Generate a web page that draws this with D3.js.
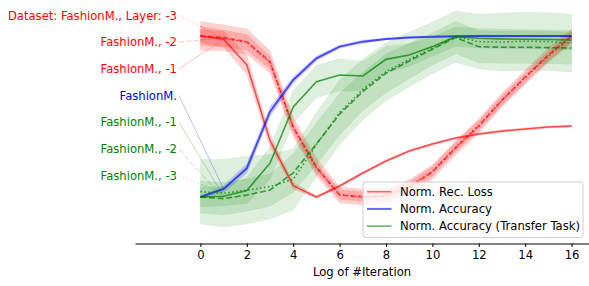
<!DOCTYPE html>
<html>
<head>
<meta charset="utf-8">
<script src="https://cdn.jsdelivr.net/npm/d3@7"></script>
<style>
  html, body { margin: 0; padding: 0; background: #fff; }
  svg { display: block; font-family: "DejaVu Sans", sans-serif; }
</style>
</head>
<body>
<div id="chart"></div>
<script>
// ---------------- data ----------------
const iterations = [0,1,2,3,4,5,6,7,8,9,10,11,12,13,14,15,16];
const xTicks = [0,2,4,6,8,10,12,14,16];

// Norm. Rec. Loss (red), layers -1 / -2 / -3
const recLossL1 = [1.0, 0.98, 0.82, 0.35, 0.07, 0.0, 0.068, 0.149, 0.224, 0.286, 0.329, 0.366, 0.391, 0.41, 0.422, 0.435, 0.441];
const recLossL1Err = [0.04, 0.05, 0.06, 0.04, 0.02, 0.01, 0.01, 0.008, 0.008, 0.008, 0.008, 0.008, 0.008, 0.008, 0.008, 0.008, 0.008];
const recLossL2 = [1.0, 0.99, 0.965, 0.84, 0.435, 0.186, 0.012, 0.0, 0.006, 0.062, 0.155, 0.304, 0.441, 0.602, 0.745, 0.882, 1.0];
const recLossL2Err = [0.09, 0.08, 0.08, 0.07, 0.06, 0.055, 0.05, 0.05, 0.05, 0.045, 0.045, 0.045, 0.045, 0.045, 0.045, 0.045, 0.045];
const recLossL3 = [1.0, 0.985, 0.96, 0.835, 0.43, 0.18, 0.015, 0.003, 0.01, 0.065, 0.16, 0.31, 0.445, 0.6, 0.74, 0.875, 0.995];
const recLossL3Err = [0.06, 0.05, 0.05, 0.04, 0.035, 0.03, 0.03, 0.03, 0.03, 0.03, 0.03, 0.03, 0.03, 0.03, 0.03, 0.03, 0.03];

// Norm. Accuracy (blue)
const accuracy = [0, 0.05, 0.178, 0.53, 0.727, 0.861, 0.934, 0.965, 0.981, 0.99, 0.995, 0.998, 1.0, 1.0, 1.0, 1.0, 1.0];
const accuracyErr = [0.006, 0.02, 0.03, 0.03, 0.02, 0.015, 0.01, 0.01, 0.006, 0.005, 0.004, 0.004, 0.004, 0.004, 0.004, 0.004, 0.004];

// Norm. Accuracy (Transfer Task) (green), layers -1 / -2 / -3
const transferL1 = [0, 0.005, 0.04, 0.21, 0.56, 0.716, 0.758, 0.752, 0.855, 0.882, 0.934, 0.996, 0.986, 0.982, 0.98, 0.978, 0.975];
const transferL1Err = [0.06, 0.06, 0.08, 0.1, 0.1, 0.1, 0.1, 0.09, 0.08, 0.07, 0.06, 0.06, 0.06, 0.06, 0.06, 0.06, 0.06];
const transferL2 = [0, -0.01, 0.012, 0.043, 0.15, 0.33, 0.515, 0.655, 0.768, 0.845, 0.918, 0.99, 0.934, 0.93, 0.93, 0.928, 0.925];
const transferL2Err = [0.1, 0.1, 0.1, 0.1, 0.12, 0.13, 0.13, 0.12, 0.12, 0.11, 0.1, 0.1, 0.1, 0.1, 0.1, 0.1, 0.1];
const transferL3 = [0.033, 0.023, 0.043, 0.064, 0.11, 0.325, 0.525, 0.668, 0.778, 0.855, 0.925, 0.996, 0.965, 0.962, 0.968, 0.965, 0.955];
const transferL3Err = [0.2, 0.21, 0.21, 0.2, 0.19, 0.2, 0.2, 0.19, 0.18, 0.17, 0.16, 0.16, 0.17, 0.18, 0.18, 0.18, 0.18];

const labelTexts = ["Dataset: FashionM., Layer: -3", "FashionM., -2", "FashionM., -1", "FashionM.",
                    "FashionM., -1", "FashionM., -2", "FashionM., -3"];
const legendLabels = ["Norm. Rec. Loss", "Norm. Accuracy", "Norm. Accuracy (Transfer Task)"];
const xLabel = "Log of #Iteration";

// ---------------- series config ----------------
const series = [
  {vals: recLossL3, err: recLossL3Err, color: "red",   dash: "1.5,2.5", label: 0},
  {vals: recLossL2, err: recLossL2Err, color: "red",   dash: "5,2.5",   label: 1},
  {vals: recLossL1, err: recLossL1Err, color: "red",   dash: null,      label: 2},
  {vals: accuracy,  err: accuracyErr,  color: "blue",  dash: null,      label: 3},
  {vals: transferL1, err: transferL1Err, color: "green", dash: null,    label: 4},
  {vals: transferL2, err: transferL2Err, color: "green", dash: "6,2.6", label: 5},
  {vals: transferL3, err: transferL3Err, color: "green", dash: "1.5,2.5", label: 6}
];

// ---------------- drawing ----------------
const W = 589, H = 286;
const FS = "11.6px";
const svg = d3.select("#chart").append("svg").attr("width", W).attr("height", H);

const x = d3.scaleLinear().domain([-2.82, 16.75]).range([135, 589]);
const y = d3.scaleLinear().domain([0, 1]).range([197, 36]);
const axisY = 243.5;

const area = d3.area()
  .x((d, i) => x(iterations[i]))
  .y0(d => y(d[0]))
  .y1(d => y(d[1]));
const line = d3.line()
  .x((d, i) => x(iterations[i]))
  .y(d => y(d));

// bands (below all lines)
series.forEach(s => {
  const band = s.vals.map((v, i) => [v - s.err[i], v + s.err[i]]);
  svg.append("path")
    .attr("d", area(band))
    .attr("fill", s.color)
    .attr("fill-opacity", s.color === "green" ? 0.13 : 0.18)
    .attr("stroke", s.color)
    .attr("stroke-opacity", 0.05);
});

// lines
series.forEach(s => {
  svg.append("path")
    .attr("d", line(s.vals))
    .attr("fill", "none")
    .attr("stroke", s.color)
    .attr("stroke-opacity", s.color === "green" ? 0.72 : 0.65)
    .attr("stroke-width", s.color === "blue" ? 2 : 1.6)
    .attr("stroke-dasharray", s.dash);
});

// labels + connectors
const labelX = 177, labelY0 = 15.5, labelStep = 26.7;
series.forEach(s => {
  const ly = labelY0 + s.label * labelStep;
  svg.append("line")
    .attr("x1", labelX + 2).attr("y1", ly)
    .attr("x2", x(iterations[1])).attr("y2", y(s.vals[1]))
    .attr("stroke", s.color)
    .attr("stroke-opacity", 0.25)
    .attr("stroke-width", 1)
    .attr("stroke-dasharray", s.dash);
  svg.append("text")
    .attr("x", labelX).attr("y", ly)
    .attr("dy", "0.35em")
    .attr("text-anchor", "end")
    .attr("font-size", FS)
    .attr("fill", s.color)
    .text(labelTexts[s.label]);
});

// x axis
const xAxis = d3.axisBottom(x).tickValues(xTicks).tickSize(3.5).tickPadding(3.5).tickSizeOuter(0);
const gx = svg.append("g").attr("transform", `translate(0,${axisY})`).call(xAxis);
gx.select(".domain").attr("stroke", "#000").attr("stroke-width", 1);
gx.selectAll(".tick line").attr("stroke", "#000");
gx.selectAll(".tick text").attr("font-size", FS).attr("fill", "#000").attr("font-family", "DejaVu Sans");

svg.append("text")
  .attr("x", (135 + 589) / 2).attr("y", 271.5)
  .attr("dy", "0.35em")
  .attr("text-anchor", "middle")
  .attr("font-size", FS)
  .attr("fill", "#000")
  .text(xLabel);

// legend
const legColors = ["red", "blue", "green"];
const lg = svg.append("g");
lg.append("rect")
  .attr("x", 363).attr("y", 182).attr("width", 220).attr("height", 55.5)
  .attr("rx", 2.5)
  .attr("fill", "#fff").attr("fill-opacity", 0.8)
  .attr("stroke", "#cccccc").attr("stroke-width", 1);
legendLabels.forEach((t, i) => {
  const ly = 191.7 + i * 17.2;
  lg.append("line")
    .attr("x1", 367).attr("x2", 391.5).attr("y1", ly).attr("y2", ly)
    .attr("stroke", legColors[i]).attr("stroke-opacity", 0.6)
    .attr("stroke-width", i === 1 ? 2 : 1.6);
  lg.append("text")
    .attr("x", 400).attr("y", ly).attr("dy", "0.35em")
    .attr("font-size", FS).attr("fill", "#000")
    .text(t);
});
</script>
</body>
</html>
